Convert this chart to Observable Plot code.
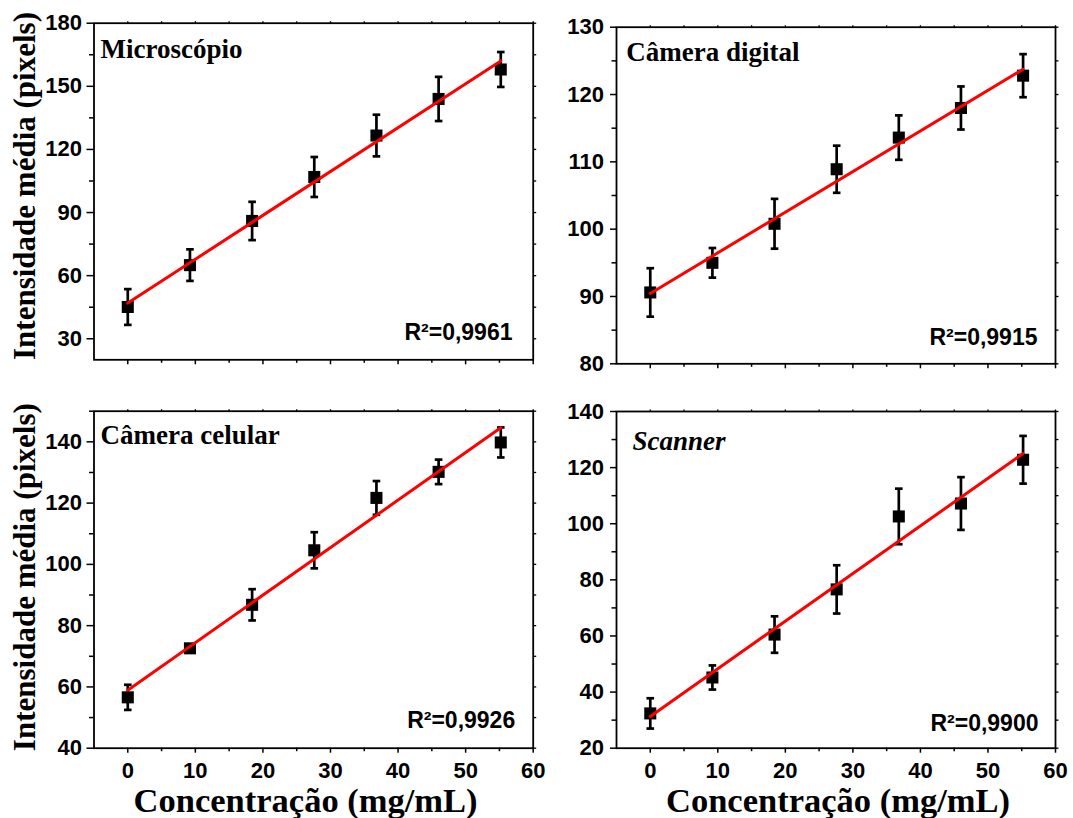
<!DOCTYPE html>
<html><head><meta charset="utf-8">
<script src="https://cdn.jsdelivr.net/npm/d3@7"></script>
<script src="https://cdn.jsdelivr.net/npm/@observablehq/plot@0.6"></script>
<style>
body{margin:0;background:#fff;}
#wrap{position:relative;width:1073px;height:818px;background:#fff;overflow:hidden;}
.panel{position:absolute;}
</style></head><body><div id="wrap"></div>
<script>
// ---- data ----
const concentration = [0, 9.2, 18.4, 27.6, 36.8, 46, 55.2];

const microscopioMean = [45.1, 65.0, 86.0, 106.9, 126.6, 144.0, 158.0];
const microscopioErr  = [8.5, 7.5, 9.1, 9.5, 9.9, 10.5, 8.3];

const cameraDigitalMean = [90.6, 95.0, 100.8, 108.9, 113.6, 118.0, 122.8];
const cameraDigitalErr  = [3.6, 2.2, 3.7, 3.5, 3.3, 3.2, 3.2];

const cameraCelularMean = [56.6, 72.6, 86.8, 104.6, 121.7, 130.2, 139.8];
const cameraCelularErr  = [4.1, 1.0, 5.1, 5.9, 5.5, 4.0, 4.9];

const scannerMean = [32.4, 45.2, 60.5, 76.6, 102.6, 107.2, 122.8];
const scannerErr  = [5.4, 4.3, 6.5, 8.6, 9.9, 9.4, 8.5];

const panelTitles = ["Microscópio", "Câmera digital", "Câmera celular", "Scanner"];
const r2Labels = ["R²=0,9961", "R²=0,9915", "R²=0,9926", "R²=0,9900"];
const yAxisTitle = "Intensidade média (pixels)";
const xAxisTitle = "Concentração (mg/mL)";

const xDomain = [-5, 60];
const xMajorTicks = [0, 10, 20, 30, 40, 50, 60];
const xMinorTicks = [5, 15, 25, 35, 45, 55];

const yDomains = [[20, 180], [80, 130], [40, 150], [20, 140]];
const yMajorTicks = [
  [30, 60, 90, 120, 150, 180],
  [80, 90, 100, 110, 120, 130],
  [40, 60, 80, 100, 120, 140],
  [20, 40, 60, 80, 100, 120, 140]
];
const yMinorTicks = [
  [45, 75, 105, 135, 165],
  [85, 95, 105, 115, 125],
  [50, 70, 90, 110, 130, 150],
  [30, 50, 70, 90, 110, 130]
];

// ---- drawing ----
const sans = "'Liberation Sans', Arial, sans-serif";
const serif = "'Liberation Serif', 'Times New Roman', serif";
const tickFont = {fontFamily: sans, fontWeight: "bold", fontSize: 22, fill: "black"};

const capSymbol = {
  draw(context, size) {
    const r = Math.sqrt(size / Math.PI);
    context.moveTo(-r, 0);
    context.lineTo(r, 0);
  }
};

const panels = [
  {mean: microscopioMean, err: microscopioErr, left: 0, top: 0, width: 560, height: 385,
   mt: 22.7, mb: 25.7, ml: 93.5, mr: 27.3, xLabels: false, yTitle: true, yTitleDy: -5.5,
   tDx: 6.5, tDy: 34.3, italic: false, rDx: -20.7, rDy: -20, yLabelGap: 12, yTickSize: 7, xTitleDx: 0},
  {mean: cameraDigitalMean, err: cameraDigitalErr, left: 560, top: 0, width: 513, height: 385,
   mt: 26.7, mb: 21.7, ml: 56, mr: 18, xLabels: false, yTitle: false,
   tDx: 9.8, tDy: 33.3, italic: false, rDx: -18, rDy: -19, yLabelGap: 12.5, yTickSize: 6, xTitleDx: 0},
  {mean: cameraCelularMean, err: cameraCelularErr, left: 0, top: 385, width: 560, height: 433,
   mt: 25.7, mb: 70.3, ml: 93.5, mr: 27.3, xLabels: true, yTitle: true, yTitleDy: -2.5,
   tDx: 6.5, tDy: 32.6, italic: false, rDx: -18, rDy: -20.4, yLabelGap: 12, yTickSize: 7, xTitleDx: -8},
  {mean: scannerMean, err: scannerErr, left: 560, top: 385, width: 513, height: 433,
   mt: 26, mb: 70.3, ml: 56, mr: 18, xLabels: true, yTitle: false,
   tDx: 16, tDy: 38.3, italic: true, rDx: -17, rDy: -17.7, yLabelGap: 12.5, yTickSize: 6, xTitleDx: 2}
];

const wrap = document.getElementById("wrap");

panels.forEach((p, k) => {
  const rows = concentration.map((x, i) => ({x, y: p.mean[i], lo: p.mean[i] - p.err[i], hi: p.mean[i] + p.err[i]}));
  const marks = [
    // ticks
    Plot.axisX(xMinorTicks, {anchor: "bottom", tickSize: 3.5, tickFormat: () => "", strokeWidth: 1.5}),
    Plot.axisX(xMajorTicks, {anchor: "bottom", tickSize: 5, tickFormat: () => "", strokeWidth: 1.5}),
    Plot.axisX([...xMajorTicks, ...xMinorTicks], {anchor: "top", tickSize: 2.5, tickFormat: () => "", strokeWidth: 1.3}),
    Plot.axisY(yMinorTicks[k], {anchor: "left", tickSize: 4.5, tickFormat: () => "", strokeWidth: 1.5}),
    Plot.axisY(yMajorTicks[k], {anchor: "left", tickSize: p.yTickSize, tickFormat: () => "", strokeWidth: 1.5}),
    Plot.axisY([...yMajorTicks[k], ...yMinorTicks[k]], {anchor: "right", tickSize: 2.5, tickFormat: () => "", strokeWidth: 1.3}),
    // tick labels
    Plot.text(yMajorTicks[k], {y: d => d, frameAnchor: "left", text: d => String(d), textAnchor: "end",
      lineAnchor: "middle", dx: -p.yLabelGap, ...tickFont}),
    Plot.frame({stroke: "black", strokeWidth: 1.8}),
    // error bars
    Plot.ruleX(rows, {x: "x", y1: "lo", y2: "hi", stroke: "black", strokeWidth: 2.7}),
    Plot.dot(rows, {x: "x", y: "lo", symbol: capSymbol, r: 3.8, stroke: "black", strokeWidth: 2.7}),
    Plot.dot(rows, {x: "x", y: "hi", symbol: capSymbol, r: 3.8, stroke: "black", strokeWidth: 2.7}),
    // squares
    Plot.dot(rows, {x: "x", y: "y", symbol: "square", r: 6.8, fill: "black", stroke: null}),
    // linear fit
    Plot.linearRegressionY(rows, {x: "x", y: "y", stroke: "#ff0000", strokeWidth: 3, ci: 0}),
    // panel title
    Plot.text([panelTitles[k]], {frameAnchor: "top-left", text: d => d, textAnchor: "start", lineAnchor: "bottom",
      dx: p.tDx, dy: p.tDy, fontFamily: serif, fontWeight: "bold", fontStyle: p.italic ? "italic" : "normal",
      fontSize: 27, fill: "black"}),
    // R2
    Plot.text([r2Labels[k]], {frameAnchor: "bottom-right", text: d => d, textAnchor: "end", lineAnchor: "bottom",
      dx: p.rDx, dy: p.rDy, fontFamily: sans, fontWeight: "bold", fontSize: 23, fill: "black"})
  ];
  if (p.xLabels) {
    marks.push(Plot.text(xMajorTicks, {x: d => d, frameAnchor: "bottom", text: d => String(d), textAnchor: "middle",
      lineAnchor: "top", dy: 14, ...tickFont}));
    marks.push(Plot.text([xAxisTitle], {frameAnchor: "bottom", text: d => d, textAnchor: "middle",
      lineAnchor: "bottom", dx: p.xTitleDx, dy: 64, fontFamily: serif, fontWeight: "bold", fontSize: 34.5, fill: "black"}));
  }
  if (p.yTitle) {
    marks.push(Plot.text([yAxisTitle], {frameAnchor: "left", text: d => d, rotate: -90, textAnchor: "middle",
      lineAnchor: "bottom", dx: -59, dy: p.yTitleDy, fontFamily: serif, fontWeight: "bold", fontSize: 31, fill: "black"}));
  }
  const chart = Plot.plot({
    width: p.width, height: p.height,
    marginTop: p.mt, marginBottom: p.mb, marginLeft: p.ml, marginRight: p.mr,
    x: {domain: xDomain, axis: null, label: null},
    y: {domain: yDomains[k], axis: null, label: null},
    style: {background: "transparent", color: "black", overflow: "visible", fontFamily: sans},
    marks
  });
  const div = document.createElement("div");
  div.className = "panel";
  div.style.left = p.left + "px";
  div.style.top = p.top + "px";
  div.style.width = p.width + "px";
  div.style.height = p.height + "px";
  div.appendChild(chart);
  wrap.appendChild(div);
});
</script></body></html>
